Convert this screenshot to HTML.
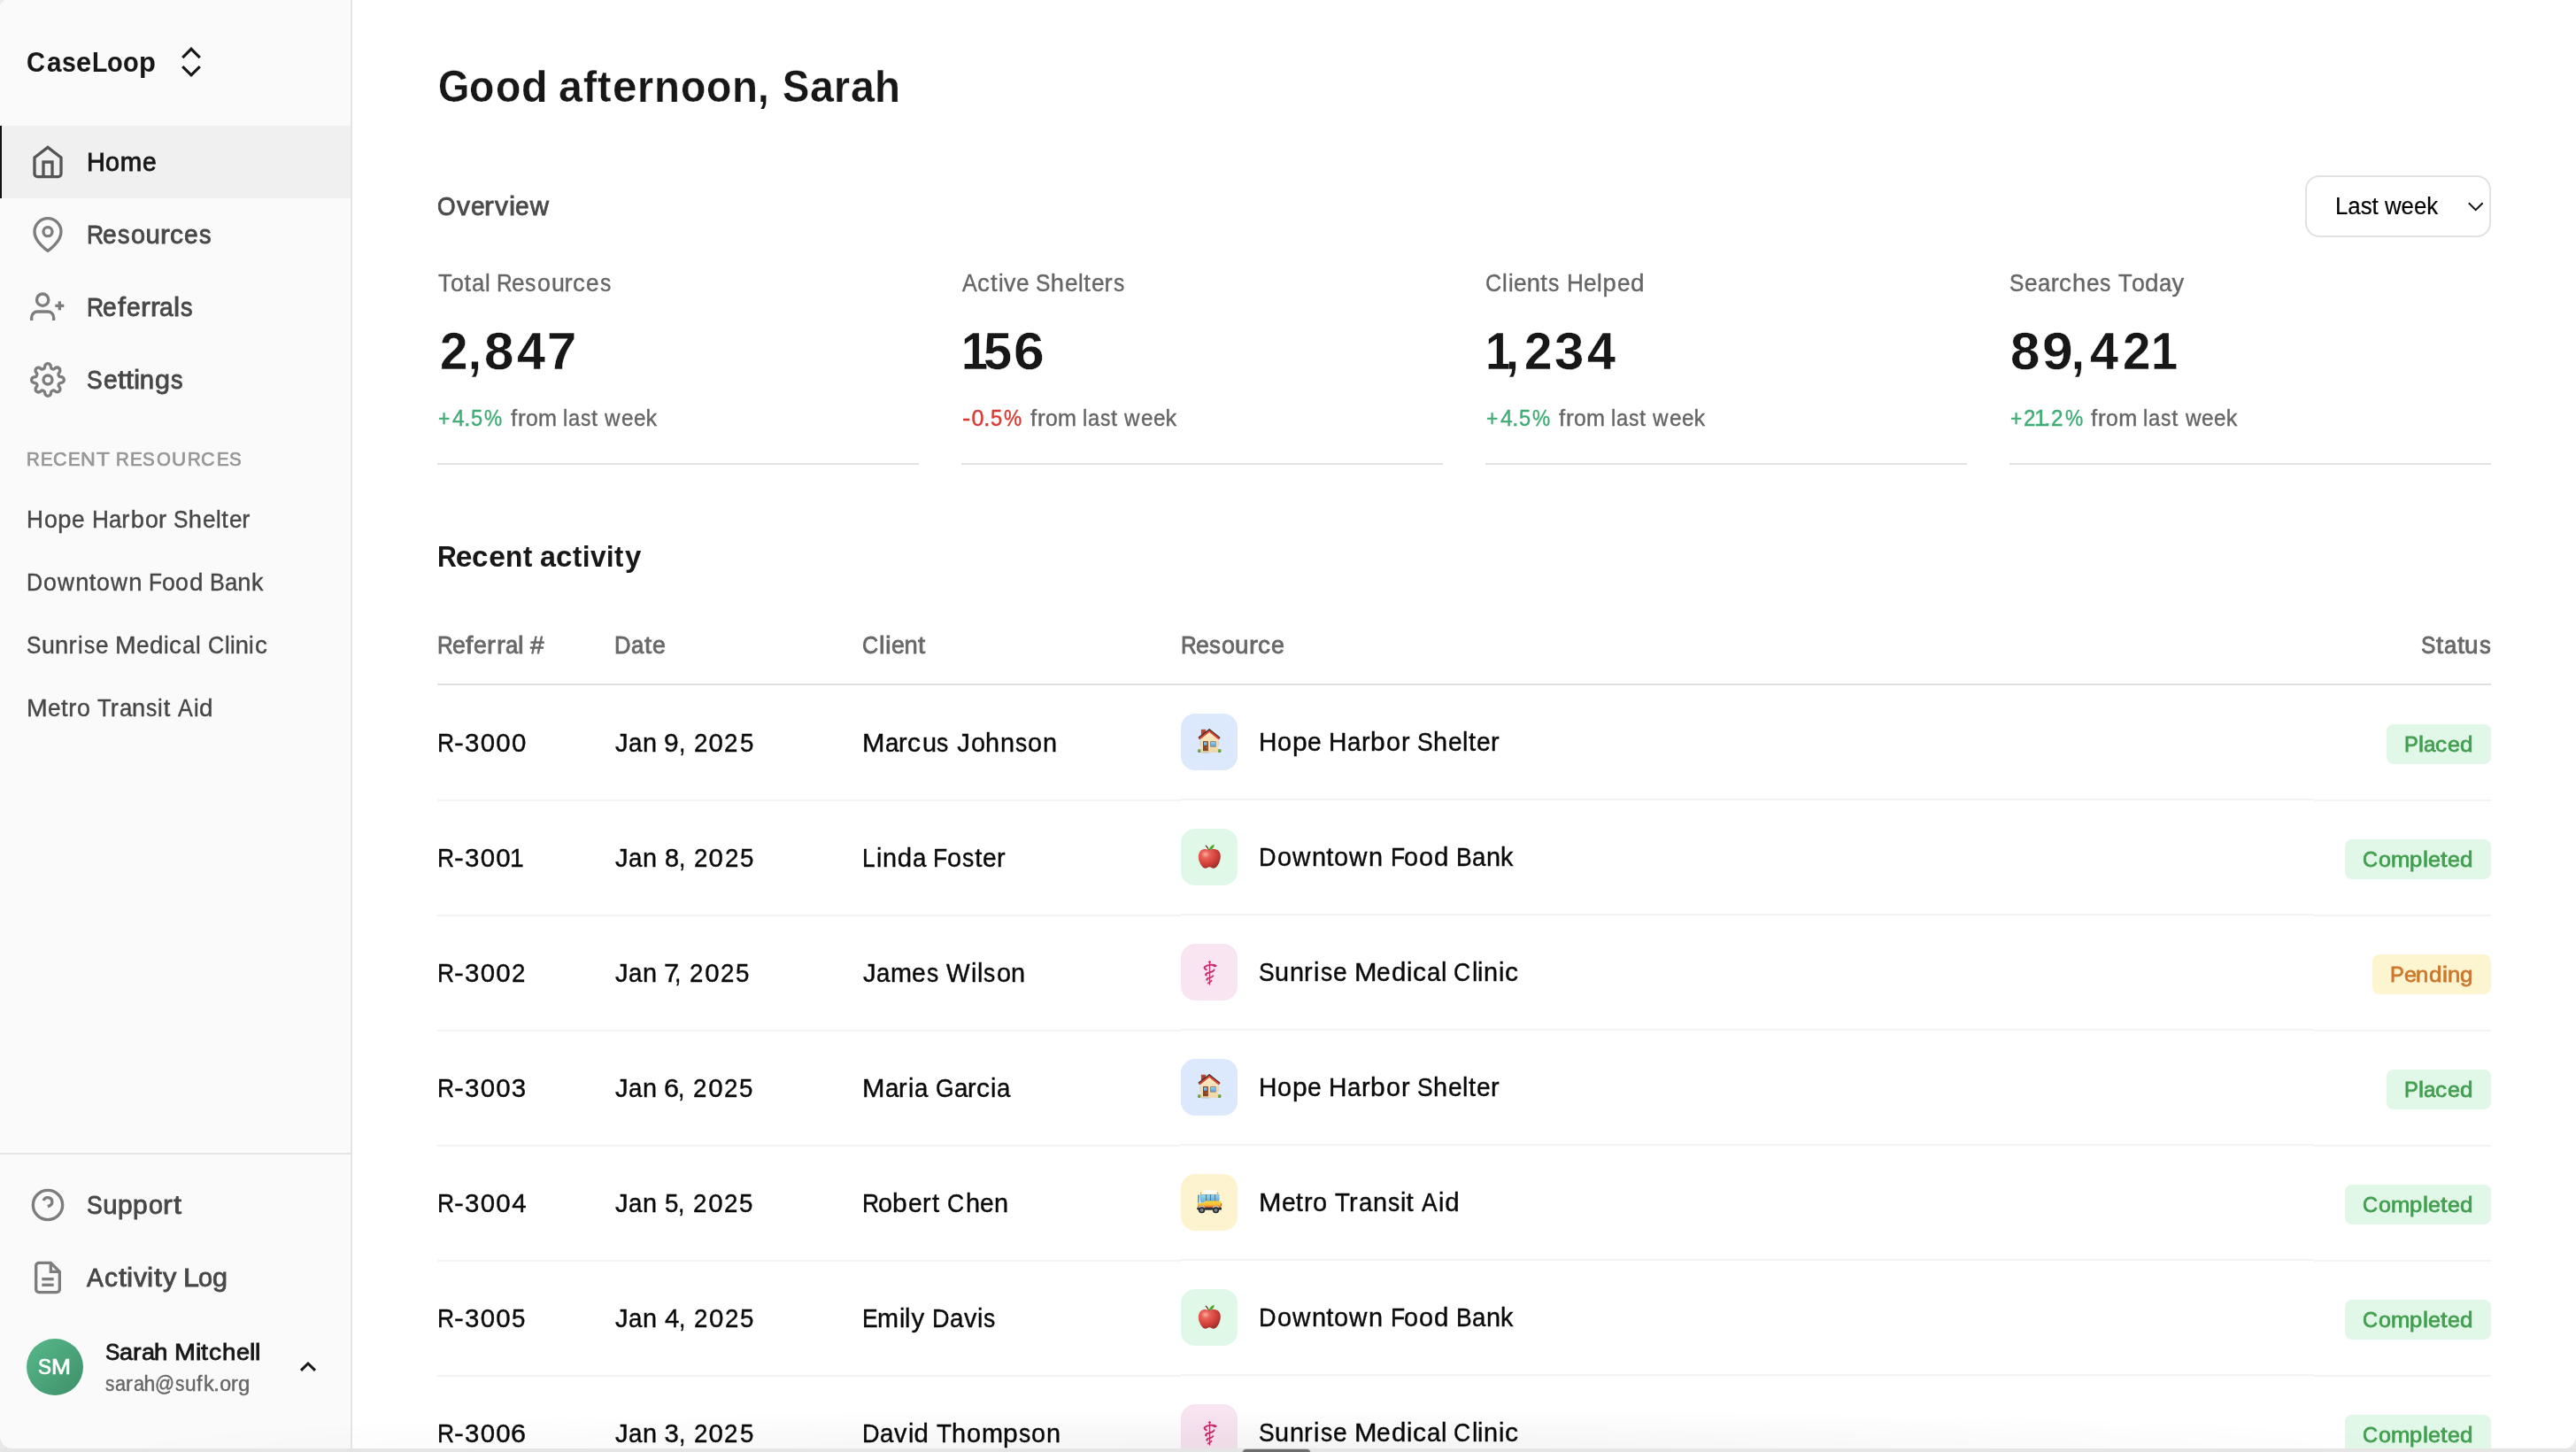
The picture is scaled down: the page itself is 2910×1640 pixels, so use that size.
<!DOCTYPE html>
<html lang="en">
<head>
<meta charset="utf-8">
<title>CaseLoop</title>
<style>
html,body{margin:0;padding:0;background:#fff;}
body{width:2910px;height:1640px;position:relative;overflow:hidden;font-family:"Liberation Sans",sans-serif;}
.t{position:absolute;white-space:nowrap;line-height:1;transform-origin:0 0;font-kerning:normal;}
.b{position:absolute;display:block;}
.g i{position:absolute;top:0;font-style:normal;transform-origin:0 0;white-space:pre;}
#root{position:absolute;left:0;top:0;width:2910px;height:1640px;overflow:hidden;will-change:transform;}
</style>
</head>
<body>
<div id="root">
<div class="b" style="left:0px;top:0px;width:396px;height:1640px;background:#fafafa;"></div>
<div class="b" style="left:396px;top:0px;width:2px;height:1640px;background:#e4e4e4;"></div>
<div class="b" style="left:0px;top:142px;width:396px;height:82px;background:#f0f0f0;"></div>
<div class="b" style="left:0px;top:142px;width:2px;height:82px;background:#111111;"></div>
<div class="b" style="left:0px;top:1302px;width:396px;height:2px;background:#e4e4e4;"></div>
<div class="t g" style="left:0;top:55.00px;font-size:31.5px;color:#171717;font-weight:700;-webkit-text-stroke:0.08px #171717;"><i style="left:30.25px;transform:scaleX(0.9200)">C</i><i style="left:52.60px;transform:scaleX(0.9400)">a</i><i style="left:69.58px;transform:scaleX(0.9000)">s</i><i style="left:86.06px;transform:scaleX(0.9800)">e</i><i style="left:103.55px;transform:scaleX(0.9000)">L</i><i style="left:120.76px;transform:scaleX(0.9200)">o</i><i style="left:139.03px;transform:scaleX(0.9200)">o</i><i style="left:156.80px;transform:scaleX(0.9800)">p</i></div>
<svg class="b" style="left:196px;top:40px" width="40" height="60" viewBox="196 40 40 60" fill="none" stroke="#171717" stroke-width="3.1"><path d="M206.2 65.1 L216 55.3 L225.8 65.1"/><path d="M206.2 75.1 L216 84.9 L225.8 75.1"/></svg>
<svg class="b" style="left:34px;top:163px" width="40" height="40" viewBox="0 0 24 24" fill="none" stroke="#555555" stroke-width="2"><path d="M3 9l9-7 9 7v11a2 2 0 0 1-2 2H5a2 2 0 0 1-2-2z"/><polyline points="9 22 9 12 15 12 15 22"/></svg>
<div class="t g" style="left:0;top:168.00px;font-size:29.4px;color:#171717;-webkit-text-stroke:0.84px #171717;"><i style="left:98.00px;transform:scaleX(0.9800)">H</i><i style="left:119.35px;transform:scaleX(0.9800)">o</i><i style="left:135.76px;transform:scaleX(1.0000)">m</i><i style="left:161.13px;transform:scaleX(0.9600)">e</i></div>
<svg class="b" style="left:34px;top:245px" width="40" height="40" viewBox="0 0 24 24" fill="none" stroke="#7d7d7d" stroke-width="2"><path d="M21 10c0 7-9 13-9 13s-9-6-9-13a9 9 0 0 1 18 0z"/><circle cx="12" cy="10" r="3"/></svg>
<div class="t g" style="left:0;top:250.00px;font-size:29.4px;color:#474747;-webkit-text-stroke:0.84px #474747;"><i style="left:97.75px;transform:scaleX(0.9000)">R</i><i style="left:116.26px;transform:scaleX(0.9600)">e</i><i style="left:132.96px;transform:scaleX(0.9200)">s</i><i style="left:147.79px;transform:scaleX(0.9800)">o</i><i style="left:164.45px;transform:scaleX(1.0000)">u</i><i style="left:181.04px;transform:scaleX(1.1000)">r</i><i style="left:191.59px;transform:scaleX(1.0200)">c</i><i style="left:208.00px;transform:scaleX(0.9600)">e</i><i style="left:224.70px;transform:scaleX(0.9200)">s</i></div>
<svg class="b" style="left:34px;top:327px" width="40" height="40" viewBox="0 0 24 24" fill="none" stroke="#7d7d7d" stroke-width="2"><path d="M16 21v-2a4 4 0 0 0-4-4H5a4 4 0 0 0-4 4v2"/><circle cx="8.5" cy="7" r="4"/><line x1="20" y1="8" x2="20" y2="14"/><line x1="23" y1="11" x2="17" y2="11"/></svg>
<div class="t g" style="left:0;top:332.00px;font-size:29.4px;color:#474747;-webkit-text-stroke:0.84px #474747;"><i style="left:97.75px;transform:scaleX(0.9000)">R</i><i style="left:116.26px;transform:scaleX(0.9600)">e</i><i style="left:132.71px;transform:scaleX(1.1000)">f</i><i style="left:142.58px;transform:scaleX(0.9600)">e</i><i style="left:158.53px;transform:scaleX(1.1000)">r</i><i style="left:169.71px;transform:scaleX(1.1000)">r</i><i style="left:180.41px;transform:scaleX(0.9600)">a</i><i style="left:196.31px;transform:scaleX(1.1000)">l</i><i style="left:204.12px;transform:scaleX(0.9200)">s</i></div>
<svg class="b" style="left:34px;top:409px" width="40" height="40" viewBox="0 0 24 24" fill="none" stroke="#7d7d7d" stroke-width="2"><circle cx="12" cy="12" r="3"/><path d="M19.4 15a1.65 1.65 0 0 0 .33 1.82l.06.06a2 2 0 0 1 0 2.83 2 2 0 0 1-2.83 0l-.06-.06a1.65 1.65 0 0 0-1.82-.33 1.65 1.65 0 0 0-1 1.51V21a2 2 0 0 1-2 2 2 2 0 0 1-2-2v-.09A1.65 1.65 0 0 0 9 19.4a1.65 1.65 0 0 0-1.82.33l-.06.06a2 2 0 0 1-2.83 0 2 2 0 0 1 0-2.83l.06-.06a1.65 1.65 0 0 0 .33-1.82 1.65 1.65 0 0 0-1.51-1H3a2 2 0 0 1-2-2 2 2 0 0 1 2-2h.09A1.65 1.65 0 0 0 4.6 9a1.65 1.65 0 0 0-.33-1.82l-.06-.06a2 2 0 0 1 0-2.83 2 2 0 0 1 2.83 0l.06.06a1.65 1.65 0 0 0 1.82.33H9a1.65 1.65 0 0 0 1-1.51V3a2 2 0 0 1 2-2 2 2 0 0 1 2 2v.09a1.65 1.65 0 0 0 1 1.51 1.65 1.65 0 0 0 1.82-.33l.06-.06a2 2 0 0 1 2.83 0 2 2 0 0 1 0 2.83l-.06.06a1.65 1.65 0 0 0-.33 1.82V9a1.65 1.65 0 0 0 1.51 1H21a2 2 0 0 1 2 2 2 2 0 0 1-2 2h-.09a1.65 1.65 0 0 0-1.51 1z"/></svg>
<div class="t g" style="left:0;top:414.00px;font-size:29.4px;color:#474747;-webkit-text-stroke:0.84px #474747;"><i style="left:98.00px;transform:scaleX(0.9000)">S</i><i style="left:116.59px;transform:scaleX(0.9600)">e</i><i style="left:132.79px;transform:scaleX(1.1000)">t</i><i style="left:141.54px;transform:scaleX(1.1000)">t</i><i style="left:150.81px;transform:scaleX(1.1000)">i</i><i style="left:157.87px;transform:scaleX(1.0000)">n</i><i style="left:174.96px;transform:scaleX(1.0400)">g</i><i style="left:192.81px;transform:scaleX(0.9200)">s</i></div>
<div class="t g" style="left:0;top:507.00px;font-size:22.8px;color:#979797;-webkit-text-stroke:0.74px #979797;"><i style="left:30.00px;transform:scaleX(0.9000)">R</i><i style="left:45.60px;transform:scaleX(0.9000)">E</i><i style="left:59.97px;transform:scaleX(0.9400)">C</i><i style="left:77.21px;transform:scaleX(0.9000)">E</i><i style="left:91.32px;transform:scaleX(1.0200)">N</i><i style="left:108.81px;transform:scaleX(1.0600)">T</i><i style="left:131.49px;transform:scaleX(0.9000)">R</i><i style="left:147.10px;transform:scaleX(0.9000)">E</i><i style="left:161.46px;transform:scaleX(0.9000)">S</i><i style="left:177.02px;transform:scaleX(0.9000)">O</i><i style="left:194.49px;transform:scaleX(0.9800)">U</i><i style="left:211.87px;transform:scaleX(0.9000)">R</i><i style="left:227.48px;transform:scaleX(0.9400)">C</i><i style="left:244.71px;transform:scaleX(0.9000)">E</i><i style="left:259.08px;transform:scaleX(0.9000)">S</i></div>
<div class="t g" style="left:0;top:573.00px;font-size:27.3px;color:#474747;-webkit-text-stroke:0.4px #474747;"><i style="left:30.25px;transform:scaleX(0.9600)">H</i><i style="left:49.82px;transform:scaleX(0.9800)">o</i><i style="left:65.16px;transform:scaleX(1.0000)">p</i><i style="left:81.33px;transform:scaleX(0.9600)">e</i><i style="left:103.55px;transform:scaleX(0.9600)">H</i><i style="left:122.88px;transform:scaleX(0.9400)">a</i><i style="left:137.23px;transform:scaleX(1.0000)">r</i><i style="left:147.67px;transform:scaleX(1.0000)">b</i><i style="left:163.84px;transform:scaleX(0.9800)">o</i><i style="left:178.93px;transform:scaleX(1.0000)">r</i><i style="left:196.03px;transform:scaleX(0.9000)">S</i><i style="left:212.71px;transform:scaleX(1.0000)">h</i><i style="left:228.59px;transform:scaleX(0.9600)">e</i><i style="left:243.50px;transform:scaleX(0.9400)">l</i><i style="left:250.17px;transform:scaleX(1.0000)">t</i><i style="left:258.68px;transform:scaleX(0.9600)">e</i><i style="left:273.33px;transform:scaleX(1.0000)">r</i></div>
<div class="t g" style="left:0;top:644.00px;font-size:27.3px;color:#474747;-webkit-text-stroke:0.4px #474747;"><i style="left:30.25px;transform:scaleX(0.9200)">D</i><i style="left:49.26px;transform:scaleX(0.9800)">o</i><i style="left:65.13px;transform:scaleX(0.9600)">w</i><i style="left:85.16px;transform:scaleX(1.0000)">n</i><i style="left:100.77px;transform:scaleX(1.0000)">t</i><i style="left:109.28px;transform:scaleX(0.9800)">o</i><i style="left:125.15px;transform:scaleX(0.9600)">w</i><i style="left:145.17px;transform:scaleX(1.0000)">n</i><i style="left:168.10px;transform:scaleX(0.9000)">F</i><i style="left:182.67px;transform:scaleX(0.9800)">o</i><i style="left:198.26px;transform:scaleX(0.9800)">o</i><i style="left:213.60px;transform:scaleX(1.0200)">d</i><i style="left:236.83px;transform:scaleX(0.9200)">B</i><i style="left:253.84px;transform:scaleX(0.9400)">a</i><i style="left:268.19px;transform:scaleX(1.0000)">n</i><i style="left:283.80px;transform:scaleX(0.9800)">k</i></div>
<div class="t g" style="left:0;top:715.00px;font-size:27.3px;color:#474747;-webkit-text-stroke:0.4px #474747;"><i style="left:30.00px;transform:scaleX(0.9000)">S</i><i style="left:47.18px;transform:scaleX(0.9800)">u</i><i style="left:62.06px;transform:scaleX(1.0000)">n</i><i style="left:77.42px;transform:scaleX(1.0000)">r</i><i style="left:87.86px;transform:scaleX(0.9400)">i</i><i style="left:94.66px;transform:scaleX(0.9000)">s</i><i style="left:108.13px;transform:scaleX(0.9600)">e</i><i style="left:129.85px;transform:scaleX(1.0400)">M</i><i style="left:154.09px;transform:scaleX(0.9600)">e</i><i style="left:169.00px;transform:scaleX(1.0200)">d</i><i style="left:184.92px;transform:scaleX(0.9400)">i</i><i style="left:191.22px;transform:scaleX(1.0200)">c</i><i style="left:206.32px;transform:scaleX(0.9400)">a</i><i style="left:220.92px;transform:scaleX(0.9400)">l</i><i style="left:234.53px;transform:scaleX(0.9200)">C</i><i style="left:253.52px;transform:scaleX(0.9400)">l</i><i style="left:259.82px;transform:scaleX(0.9400)">i</i><i style="left:265.87px;transform:scaleX(1.0000)">n</i><i style="left:281.48px;transform:scaleX(0.9400)">i</i><i style="left:287.78px;transform:scaleX(1.0200)">c</i></div>
<div class="t g" style="left:0;top:786.00px;font-size:27.3px;color:#474747;-webkit-text-stroke:0.4px #474747;"><i style="left:29.75px;transform:scaleX(1.0400)">M</i><i style="left:53.99px;transform:scaleX(0.9600)">e</i><i style="left:68.89px;transform:scaleX(1.0000)">t</i><i style="left:77.15px;transform:scaleX(1.0000)">r</i><i style="left:87.01px;transform:scaleX(0.9800)">o</i><i style="left:109.91px;transform:scaleX(0.9400)">T</i><i style="left:124.72px;transform:scaleX(1.0000)">r</i><i style="left:134.76px;transform:scaleX(0.9400)">a</i><i style="left:149.11px;transform:scaleX(1.0000)">n</i><i style="left:165.22px;transform:scaleX(0.9000)">s</i><i style="left:178.44px;transform:scaleX(0.9400)">i</i><i style="left:184.74px;transform:scaleX(1.0000)">t</i><i style="left:200.81px;transform:scaleX(0.9200)">A</i><i style="left:218.64px;transform:scaleX(0.9400)">i</i><i style="left:224.93px;transform:scaleX(1.0200)">d</i></div>
<svg class="b" style="left:34px;top:1341px" width="40" height="40" viewBox="0 0 24 24" fill="none" stroke="#7d7d7d" stroke-width="2"><circle cx="12" cy="12" r="10"/><path d="M9.09 9a3 3 0 0 1 5.83 1c0 2-3 3-3 3"/></svg>
<div class="t g" style="left:0;top:1346.00px;font-size:29.4px;color:#474747;-webkit-text-stroke:0.84px #474747;"><i style="left:98.00px;transform:scaleX(0.9000)">S</i><i style="left:116.34px;transform:scaleX(1.0000)">u</i><i style="left:132.93px;transform:scaleX(1.0200)">p</i><i style="left:150.24px;transform:scaleX(1.0200)">p</i><i style="left:168.05px;transform:scaleX(0.9800)">o</i><i style="left:184.46px;transform:scaleX(1.1000)">r</i><i style="left:196.02px;transform:scaleX(1.1000)">t</i></div>
<svg class="b" style="left:34px;top:1423px" width="40" height="40" viewBox="0 0 24 24" fill="none" stroke="#7d7d7d" stroke-width="2"><path d="M14 2H6a2 2 0 0 0-2 2v16a2 2 0 0 0 2 2h12a2 2 0 0 0 2-2V8z"/><polyline points="14 2 14 8 20 8"/><line x1="16" y1="13" x2="8" y2="13"/><line x1="16" y1="17" x2="8" y2="17"/></svg>
<div class="t g" style="left:0;top:1428.00px;font-size:29.4px;color:#474747;-webkit-text-stroke:0.84px #474747;"><i style="left:98.25px;transform:scaleX(0.9600)">A</i><i style="left:117.88px;transform:scaleX(1.0200)">c</i><i style="left:134.04px;transform:scaleX(1.1000)">t</i><i style="left:143.32px;transform:scaleX(1.1000)">i</i><i style="left:150.88px;transform:scaleX(1.0200)">v</i><i style="left:166.47px;transform:scaleX(1.1000)">i</i><i style="left:173.77px;transform:scaleX(1.1000)">t</i><i style="left:184.13px;transform:scaleX(1.0400)">y</i><i style="left:206.95px;transform:scaleX(1.1000)">L</i><i style="left:223.53px;transform:scaleX(0.9800)">o</i><i style="left:240.19px;transform:scaleX(1.0400)">g</i></div>
<div class="b" style="left:30px;top:1512px;width:64px;height:64px;border-radius:50%;background:linear-gradient(135deg,#57b98a 0%,#3f8f6a 100%)"></div>
<div class="t g" style="left:0;top:1532.00px;font-size:24.0px;color:#ffffff;-webkit-text-stroke:0.7px #ffffff;"><i style="left:42.98px;transform:scaleX(0.9400)">S</i><i style="left:58.34px;transform:scaleX(1.1000)">M</i></div>
<div class="t g" style="left:0;top:1514.00px;font-size:26.0px;color:#171717;-webkit-text-stroke:0.81px #171717;"><i style="left:118.50px;transform:scaleX(0.9400)">S</i><i style="left:134.80px;transform:scaleX(1.0400)">a</i><i style="left:149.56px;transform:scaleX(1.1000)">r</i><i style="left:159.50px;transform:scaleX(1.0400)">a</i><i style="left:174.27px;transform:scaleX(1.0600)">h</i><i style="left:196.59px;transform:scaleX(1.1000)">M</i><i style="left:220.57px;transform:scaleX(1.1000)">i</i><i style="left:227.37px;transform:scaleX(1.1000)">t</i><i style="left:235.96px;transform:scaleX(1.0800)">c</i><i style="left:250.72px;transform:scaleX(1.0600)">h</i><i style="left:266.61px;transform:scaleX(1.0400)">e</i><i style="left:281.63px;transform:scaleX(1.1000)">l</i><i style="left:288.18px;transform:scaleX(1.1000)">l</i></div>
<div class="t g" style="left:0;top:1552.00px;font-size:23.1px;color:#666666;-webkit-text-stroke:0.4px #666666;"><i style="left:118.75px;transform:scaleX(0.9000)">s</i><i style="left:129.86px;transform:scaleX(0.9400)">a</i><i style="left:141.97px;transform:scaleX(1.0200)">r</i><i style="left:150.50px;transform:scaleX(0.9400)">a</i><i style="left:162.60px;transform:scaleX(1.0000)">h</i><i style="left:175.36px;transform:scaleX(0.9400)">@</i><i style="left:197.61px;transform:scaleX(0.9000)">s</i><i style="left:208.72px;transform:scaleX(0.9800)">u</i><i style="left:221.98px;transform:scaleX(1.0000)">f</i><i style="left:229.62px;transform:scaleX(1.0200)">k</i><i style="left:241.20px;transform:scaleX(1.1000)">.</i><i style="left:248.29px;transform:scaleX(1.0000)">o</i><i style="left:261.23px;transform:scaleX(1.0200)">r</i><i style="left:269.39px;transform:scaleX(1.0400)">g</i></div>
<svg class="b" style="left:330px;top:1526px" width="36" height="36" viewBox="330 1526 36 36" fill="none" stroke="#171717" stroke-width="3"><path d="M340 1547.9 L348 1540 L356 1547.9"/></svg>
<div class="t g" style="left:0;top:73.00px;font-size:50.4px;color:#171717;font-weight:700;-webkit-text-stroke:0.25px #ffffff;"><i style="left:494.50px;transform:scaleX(0.9000)">G</i><i style="left:530.45px;transform:scaleX(0.9200)">o</i><i style="left:559.68px;transform:scaleX(0.9200)">o</i><i style="left:588.91px;transform:scaleX(0.9600)">d</i><i style="left:630.95px;transform:scaleX(0.9600)">a</i><i style="left:659.02px;transform:scaleX(0.9000)">f</i><i style="left:675.37px;transform:scaleX(0.9200)">t</i><i style="left:691.85px;transform:scaleX(0.9800)">e</i><i style="left:719.73px;transform:scaleX(0.9200)">r</i><i style="left:739.25px;transform:scaleX(0.9400)">n</i><i style="left:769.12px;transform:scaleX(0.9200)">o</i><i style="left:798.35px;transform:scaleX(0.9200)">o</i><i style="left:827.07px;transform:scaleX(0.9400)">n</i><i style="left:856.44px;transform:scaleX(0.9000)">,</i><i style="left:883.60px;transform:scaleX(0.9000)">S</i><i style="left:914.57px;transform:scaleX(0.9600)">a</i><i style="left:941.63px;transform:scaleX(0.9200)">r</i><i style="left:960.74px;transform:scaleX(0.9600)">a</i><i style="left:987.81px;transform:scaleX(0.9400)">h</i></div>
<div class="t g" style="left:0;top:218.00px;font-size:29.4px;color:#4a4a4a;-webkit-text-stroke:0.84px #4a4a4a;"><i style="left:494.25px;transform:scaleX(0.9000)">O</i><i style="left:515.97px;transform:scaleX(1.0200)">v</i><i style="left:531.52px;transform:scaleX(0.9600)">e</i><i style="left:547.47px;transform:scaleX(1.1000)">r</i><i style="left:559.24px;transform:scaleX(1.0200)">v</i><i style="left:574.83px;transform:scaleX(1.1000)">i</i><i style="left:582.38px;transform:scaleX(0.9600)">e</i><i style="left:598.87px;transform:scaleX(1.0000)">w</i></div>
<div class="b" style="left:2604px;top:198px;width:210px;height:70px;box-sizing:border-box;border:2px solid #e2e2e2;border-radius:16px;background:#fff"></div>
<div class="t" style="left:2637.95px;top:220.00px;font-size:26.78px;color:#000000;-webkit-text-stroke:0.2px #000000;transform:scaleX(0.9637);">Last week</div>
<svg class="b" style="left:2780px;top:220px" width="34" height="28" viewBox="2780 220 34 28" fill="none" stroke="#111" stroke-width="2"><path d="M2788.8 229.3 L2796.7 237.2 L2804.6 229.3"/></svg>
<div class="t g" style="left:0;top:306.00px;font-size:27.3px;color:#666666;-webkit-text-stroke:0.4px #666666;"><i style="left:494.50px;transform:scaleX(0.9400)">T</i><i style="left:509.25px;transform:scaleX(0.9800)">o</i><i style="left:524.59px;transform:scaleX(1.0000)">t</i><i style="left:533.23px;transform:scaleX(0.9400)">a</i><i style="left:547.83px;transform:scaleX(0.9400)">l</i><i style="left:561.43px;transform:scaleX(0.9000)">R</i><i style="left:578.04px;transform:scaleX(0.9600)">e</i><i style="left:593.44px;transform:scaleX(0.9000)">s</i><i style="left:606.92px;transform:scaleX(0.9800)">o</i><i style="left:622.51px;transform:scaleX(0.9800)">u</i><i style="left:637.38px;transform:scaleX(1.0000)">r</i><i style="left:646.99px;transform:scaleX(1.0200)">c</i><i style="left:662.09px;transform:scaleX(0.9600)">e</i><i style="left:677.50px;transform:scaleX(0.9000)">s</i></div>
<div class="t g" style="left:0;top:368.00px;font-size:58.8px;color:#171717;font-weight:700;-webkit-text-stroke:0.34px #ffffff;"><i style="left:496.50px;transform:scaleX(0.9600)">2</i><i style="left:528.64px;transform:scaleX(0.9000)">,</i><i style="left:546.52px;transform:scaleX(1.0200)">8</i><i style="left:583.87px;transform:scaleX(0.9800)">4</i><i style="left:618.16px;transform:scaleX(1.0200)">7</i></div>
<div class="t g" style="left:0;top:460.00px;font-size:25.2px;color:#3fac75;-webkit-text-stroke:0.4px #3fac75;"><i style="left:495.25px;transform:scaleX(0.9000)">+</i><i style="left:510.88px;transform:scaleX(0.9800)">4</i><i style="left:524.32px;transform:scaleX(1.0800)">.</i><i style="left:532.15px;transform:scaleX(0.9400)">5</i><i style="left:547.49px;transform:scaleX(0.9000)">%</i></div>
<div class="t g" style="left:0;top:460.00px;font-size:25.2px;color:#666666;-webkit-text-stroke:0.4px #666666;"><i style="left:576.56px;transform:scaleX(1.0200)">f</i><i style="left:584.94px;transform:scaleX(1.0400)">r</i><i style="left:593.83px;transform:scaleX(0.9800)">o</i><i style="left:607.97px;transform:scaleX(1.0000)">m</i><i style="left:635.99px;transform:scaleX(0.9400)">l</i><i style="left:641.80px;transform:scaleX(0.9400)">a</i><i style="left:655.78px;transform:scaleX(0.9000)">s</i><i style="left:667.95px;transform:scaleX(1.0000)">t</i><i style="left:683.30px;transform:scaleX(0.9600)">w</i><i style="left:701.76px;transform:scaleX(0.9600)">e</i><i style="left:715.75px;transform:scaleX(0.9600)">e</i><i style="left:729.49px;transform:scaleX(1.0000)">k</i></div>
<div class="b" style="left:494px;top:523px;width:544px;height:2px;background:#e1e1e1;"></div>
<div class="t g" style="left:0;top:306.00px;font-size:27.3px;color:#666666;-webkit-text-stroke:0.4px #666666;"><i style="left:1086.50px;transform:scaleX(0.9200)">A</i><i style="left:1104.19px;transform:scaleX(1.0200)">c</i><i style="left:1119.04px;transform:scaleX(1.0000)">t</i><i style="left:1127.55px;transform:scaleX(0.9400)">i</i><i style="left:1134.35px;transform:scaleX(0.9800)">v</i><i style="left:1148.20px;transform:scaleX(0.9600)">e</i><i style="left:1170.17px;transform:scaleX(0.9000)">S</i><i style="left:1186.85px;transform:scaleX(1.0000)">h</i><i style="left:1202.73px;transform:scaleX(0.9600)">e</i><i style="left:1217.63px;transform:scaleX(0.9400)">l</i><i style="left:1224.31px;transform:scaleX(1.0000)">t</i><i style="left:1232.82px;transform:scaleX(0.9600)">e</i><i style="left:1247.47px;transform:scaleX(1.0000)">r</i><i style="left:1258.01px;transform:scaleX(0.9000)">s</i></div>
<div class="t g" style="left:0;top:368.00px;font-size:58.8px;color:#171717;font-weight:700;-webkit-text-stroke:0.34px #ffffff;"><i style="left:1085.50px;transform:scaleX(0.9200)">1</i><i style="left:1111.43px;transform:scaleX(0.9800)">5</i><i style="left:1145.40px;transform:scaleX(1.0600)">6</i></div>
<div class="t g" style="left:0;top:460.00px;font-size:25.2px;color:#da3833;-webkit-text-stroke:0.4px #da3833;"><i style="left:1086.75px;transform:scaleX(1.1000)">-</i><i style="left:1097.54px;transform:scaleX(1.0000)">0</i><i style="left:1111.32px;transform:scaleX(1.0800)">.</i><i style="left:1119.14px;transform:scaleX(0.9400)">5</i><i style="left:1134.48px;transform:scaleX(0.9000)">%</i></div>
<div class="t g" style="left:0;top:460.00px;font-size:25.2px;color:#666666;-webkit-text-stroke:0.4px #666666;"><i style="left:1163.55px;transform:scaleX(1.0200)">f</i><i style="left:1171.93px;transform:scaleX(1.0400)">r</i><i style="left:1180.82px;transform:scaleX(0.9800)">o</i><i style="left:1194.96px;transform:scaleX(1.0000)">m</i><i style="left:1222.99px;transform:scaleX(0.9400)">l</i><i style="left:1228.80px;transform:scaleX(0.9400)">a</i><i style="left:1242.77px;transform:scaleX(0.9000)">s</i><i style="left:1254.94px;transform:scaleX(1.0000)">t</i><i style="left:1270.29px;transform:scaleX(0.9600)">w</i><i style="left:1288.75px;transform:scaleX(0.9600)">e</i><i style="left:1302.74px;transform:scaleX(0.9600)">e</i><i style="left:1316.49px;transform:scaleX(1.0000)">k</i></div>
<div class="b" style="left:1086px;top:523px;width:544px;height:2px;background:#e1e1e1;"></div>
<div class="t g" style="left:0;top:306.00px;font-size:27.3px;color:#666666;-webkit-text-stroke:0.4px #666666;"><i style="left:1678.25px;transform:scaleX(0.9200)">C</i><i style="left:1697.24px;transform:scaleX(0.9400)">l</i><i style="left:1703.54px;transform:scaleX(0.9400)">i</i><i style="left:1710.09px;transform:scaleX(0.9600)">e</i><i style="left:1724.74px;transform:scaleX(1.0000)">n</i><i style="left:1740.36px;transform:scaleX(1.0000)">t</i><i style="left:1749.11px;transform:scaleX(0.9000)">s</i><i style="left:1769.64px;transform:scaleX(0.9600)">H</i><i style="left:1789.22px;transform:scaleX(0.9600)">e</i><i style="left:1804.12px;transform:scaleX(0.9400)">l</i><i style="left:1810.42px;transform:scaleX(1.0000)">p</i><i style="left:1826.59px;transform:scaleX(0.9600)">e</i><i style="left:1841.50px;transform:scaleX(1.0200)">d</i></div>
<div class="t g" style="left:0;top:368.00px;font-size:58.8px;color:#171717;font-weight:700;-webkit-text-stroke:0.34px #ffffff;"><i style="left:1677.50px;transform:scaleX(0.9200)">1</i><i style="left:1701.43px;transform:scaleX(0.9000)">,</i><i style="left:1722.04px;transform:scaleX(0.9600)">2</i><i style="left:1755.93px;transform:scaleX(1.0200)">3</i><i style="left:1792.81px;transform:scaleX(0.9800)">4</i></div>
<div class="t g" style="left:0;top:460.00px;font-size:25.2px;color:#3fac75;-webkit-text-stroke:0.4px #3fac75;"><i style="left:1679.25px;transform:scaleX(0.9000)">+</i><i style="left:1694.88px;transform:scaleX(0.9800)">4</i><i style="left:1708.32px;transform:scaleX(1.0800)">.</i><i style="left:1716.15px;transform:scaleX(0.9400)">5</i><i style="left:1731.49px;transform:scaleX(0.9000)">%</i></div>
<div class="t g" style="left:0;top:460.00px;font-size:25.2px;color:#666666;-webkit-text-stroke:0.4px #666666;"><i style="left:1760.56px;transform:scaleX(1.0200)">f</i><i style="left:1768.94px;transform:scaleX(1.0400)">r</i><i style="left:1777.83px;transform:scaleX(0.9800)">o</i><i style="left:1791.97px;transform:scaleX(1.0000)">m</i><i style="left:1819.99px;transform:scaleX(0.9400)">l</i><i style="left:1825.80px;transform:scaleX(0.9400)">a</i><i style="left:1839.78px;transform:scaleX(0.9000)">s</i><i style="left:1851.95px;transform:scaleX(1.0000)">t</i><i style="left:1867.30px;transform:scaleX(0.9600)">w</i><i style="left:1885.76px;transform:scaleX(0.9600)">e</i><i style="left:1899.75px;transform:scaleX(0.9600)">e</i><i style="left:1913.49px;transform:scaleX(1.0000)">k</i></div>
<div class="b" style="left:1678px;top:523px;width:544px;height:2px;background:#e1e1e1;"></div>
<div class="t g" style="left:0;top:306.00px;font-size:27.3px;color:#666666;-webkit-text-stroke:0.4px #666666;"><i style="left:2270.00px;transform:scaleX(0.9000)">S</i><i style="left:2287.18px;transform:scaleX(0.9600)">e</i><i style="left:2302.34px;transform:scaleX(0.9400)">a</i><i style="left:2316.69px;transform:scaleX(1.0000)">r</i><i style="left:2326.30px;transform:scaleX(1.0200)">c</i><i style="left:2340.90px;transform:scaleX(1.0000)">h</i><i style="left:2356.78px;transform:scaleX(0.9600)">e</i><i style="left:2372.19px;transform:scaleX(0.9000)">s</i><i style="left:2392.97px;transform:scaleX(0.9400)">T</i><i style="left:2407.73px;transform:scaleX(0.9800)">o</i><i style="left:2423.07px;transform:scaleX(1.0200)">d</i><i style="left:2438.99px;transform:scaleX(0.9400)">a</i><i style="left:2453.45px;transform:scaleX(1.0000)">y</i></div>
<div class="t g" style="left:0;top:368.00px;font-size:58.8px;color:#171717;font-weight:700;-webkit-text-stroke:0.34px #ffffff;"><i style="left:2271.25px;transform:scaleX(1.0200)">8</i><i style="left:2306.60px;transform:scaleX(1.0600)">9</i><i style="left:2339.86px;transform:scaleX(0.9000)">,</i><i style="left:2360.72px;transform:scaleX(0.9800)">4</i><i style="left:2397.76px;transform:scaleX(0.9600)">2</i><i style="left:2429.65px;transform:scaleX(0.9200)">1</i></div>
<div class="t g" style="left:0;top:460.00px;font-size:25.2px;color:#3fac75;-webkit-text-stroke:0.4px #3fac75;"><i style="left:2271.25px;transform:scaleX(0.9000)">+</i><i style="left:2285.82px;transform:scaleX(0.9600)">2</i><i style="left:2298.46px;transform:scaleX(1.0400)">1</i><i style="left:2309.22px;transform:scaleX(1.0800)">.</i><i style="left:2317.13px;transform:scaleX(0.9600)">2</i><i style="left:2332.77px;transform:scaleX(0.9000)">%</i></div>
<div class="t g" style="left:0;top:460.00px;font-size:25.2px;color:#666666;-webkit-text-stroke:0.4px #666666;"><i style="left:2361.84px;transform:scaleX(1.0200)">f</i><i style="left:2370.22px;transform:scaleX(1.0400)">r</i><i style="left:2379.11px;transform:scaleX(0.9800)">o</i><i style="left:2393.25px;transform:scaleX(1.0000)">m</i><i style="left:2421.27px;transform:scaleX(0.9400)">l</i><i style="left:2427.08px;transform:scaleX(0.9400)">a</i><i style="left:2441.06px;transform:scaleX(0.9000)">s</i><i style="left:2453.23px;transform:scaleX(1.0000)">t</i><i style="left:2468.58px;transform:scaleX(0.9600)">w</i><i style="left:2487.04px;transform:scaleX(0.9600)">e</i><i style="left:2501.03px;transform:scaleX(0.9600)">e</i><i style="left:2514.77px;transform:scaleX(1.0000)">k</i></div>
<div class="b" style="left:2270px;top:523px;width:544px;height:2px;background:#e1e1e1;"></div>
<div class="t g" style="left:0;top:612.00px;font-size:33.6px;color:#171717;font-weight:700;-webkit-text-stroke:0.06px #171717;"><i style="left:494.00px;transform:scaleX(0.9000)">R</i><i style="left:514.72px;transform:scaleX(1.0000)">e</i><i style="left:533.39px;transform:scaleX(0.9800)">c</i><i style="left:552.28px;transform:scaleX(1.0000)">e</i><i style="left:570.95px;transform:scaleX(0.9400)">n</i><i style="left:590.78px;transform:scaleX(0.9200)">t</i><i style="left:610.39px;transform:scaleX(0.9600)">a</i><i style="left:628.27px;transform:scaleX(0.9800)">c</i><i style="left:647.16px;transform:scaleX(0.9200)">t</i><i style="left:658.20px;transform:scaleX(0.9000)">i</i><i style="left:667.33px;transform:scaleX(0.9400)">v</i><i style="left:685.36px;transform:scaleX(0.9000)">i</i><i style="left:693.99px;transform:scaleX(0.9200)">t</i><i style="left:705.72px;transform:scaleX(0.9800)">y</i></div>
<div class="t g" style="left:0;top:715.00px;font-size:27.3px;color:#686868;-webkit-text-stroke:0.81px #686868;"><i style="left:494.00px;transform:scaleX(0.9000)">R</i><i style="left:510.99px;transform:scaleX(0.9800)">e</i><i style="left:526.26px;transform:scaleX(1.1000)">f</i><i style="left:535.43px;transform:scaleX(0.9800)">e</i><i style="left:550.20px;transform:scaleX(1.1000)">r</i><i style="left:560.59px;transform:scaleX(1.1000)">r</i><i style="left:570.78px;transform:scaleX(0.9400)">a</i><i style="left:585.29px;transform:scaleX(1.1000)">l</i><i style="left:599.28px;transform:scaleX(1.0200)">#</i></div>
<div class="t g" style="left:0;top:715.00px;font-size:27.3px;color:#686868;-webkit-text-stroke:0.81px #686868;"><i style="left:694.00px;transform:scaleX(0.9400)">D</i><i style="left:713.01px;transform:scaleX(0.9400)">a</i><i style="left:727.78px;transform:scaleX(1.0800)">t</i><i style="left:736.62px;transform:scaleX(0.9800)">e</i></div>
<div class="t g" style="left:0;top:715.00px;font-size:27.3px;color:#686868;-webkit-text-stroke:0.81px #686868;"><i style="left:974.25px;transform:scaleX(0.9200)">C</i><i style="left:993.07px;transform:scaleX(1.1000)">l</i><i style="left:999.62px;transform:scaleX(1.1000)">i</i><i style="left:1006.67px;transform:scaleX(0.9800)">e</i><i style="left:1021.44px;transform:scaleX(1.0000)">n</i><i style="left:1037.33px;transform:scaleX(1.0800)">t</i></div>
<div class="t g" style="left:0;top:715.00px;font-size:27.3px;color:#686868;-webkit-text-stroke:0.81px #686868;"><i style="left:1334.00px;transform:scaleX(0.9000)">R</i><i style="left:1350.99px;transform:scaleX(0.9800)">e</i><i style="left:1366.26px;transform:scaleX(0.9400)">s</i><i style="left:1380.27px;transform:scaleX(0.9800)">o</i><i style="left:1395.47px;transform:scaleX(1.0200)">u</i><i style="left:1411.11px;transform:scaleX(1.1000)">r</i><i style="left:1420.92px;transform:scaleX(1.0200)">c</i><i style="left:1436.18px;transform:scaleX(0.9800)">e</i></div>
<div class="t g" style="left:0;top:715.00px;font-size:27.3px;color:#686868;-webkit-text-stroke:0.81px #686868;"><i style="left:2735.22px;transform:scaleX(0.9000)">S</i><i style="left:2752.02px;transform:scaleX(1.0800)">t</i><i style="left:2760.99px;transform:scaleX(0.9400)">a</i><i style="left:2775.76px;transform:scaleX(1.0800)">t</i><i style="left:2784.36px;transform:scaleX(1.0200)">u</i><i style="left:2800.50px;transform:scaleX(0.9400)">s</i></div>
<div class="b" style="left:494px;top:772px;width:2320px;height:2px;background:#e0e0e0;"></div>
<div class="t g" style="left:0;top:824.00px;font-size:29.4px;color:#0a0a0a;-webkit-text-stroke:0.4px #0a0a0a;"><i style="left:494.00px;transform:scaleX(0.9000)">R</i><i style="left:512.77px;transform:scaleX(1.1000)">-</i><i style="left:525.08px;transform:scaleX(1.0000)">3</i><i style="left:542.63px;transform:scaleX(1.0000)">0</i><i style="left:560.29px;transform:scaleX(1.0000)">0</i><i style="left:577.96px;transform:scaleX(1.0000)">0</i></div>
<div class="t g" style="left:0;top:824.00px;font-size:29.4px;color:#0a0a0a;-webkit-text-stroke:0.4px #0a0a0a;"><i style="left:695.00px;transform:scaleX(1.0000)">J</i><i style="left:710.23px;transform:scaleX(0.9400)">a</i><i style="left:725.96px;transform:scaleX(0.9800)">n</i><i style="left:750.37px;transform:scaleX(1.0200)">9</i><i style="left:766.53px;transform:scaleX(0.9000)">,</i><i style="left:783.72px;transform:scaleX(0.9400)">2</i><i style="left:800.54px;transform:scaleX(1.0000)">0</i><i style="left:818.46px;transform:scaleX(0.9400)">2</i><i style="left:835.53px;transform:scaleX(0.9400)">5</i></div>
<div class="t g" style="left:0;top:824.00px;font-size:29.4px;color:#0a0a0a;-webkit-text-stroke:0.4px #0a0a0a;"><i style="left:974.00px;transform:scaleX(1.0400)">M</i><i style="left:999.54px;transform:scaleX(0.9400)">a</i><i style="left:1015.27px;transform:scaleX(0.9800)">r</i><i style="left:1025.34px;transform:scaleX(1.0200)">c</i><i style="left:1041.59px;transform:scaleX(0.9800)">u</i><i style="left:1058.40px;transform:scaleX(0.9000)">s</i><i style="left:1081.30px;transform:scaleX(1.0000)">J</i><i style="left:1096.78px;transform:scaleX(0.9800)">o</i><i style="left:1113.32px;transform:scaleX(0.9800)">h</i><i style="left:1129.88px;transform:scaleX(0.9800)">n</i><i style="left:1146.92px;transform:scaleX(0.9000)">s</i><i style="left:1161.45px;transform:scaleX(0.9800)">o</i><i style="left:1177.99px;transform:scaleX(0.9800)">n</i></div>
<div class="b" style="left:1334px;top:806px;width:64px;height:64px;border-radius:16px;background:#dce8fb"><svg width="64" height="64" viewBox="0 0 64 64" style="display:block">
<defs>
<linearGradient id="hw" x1="0" y1="0" x2="0" y2="1"><stop offset="0" stop-color="#fbe9c3"/><stop offset="1" stop-color="#efd6a6"/></linearGradient>
<linearGradient id="hg" x1="0" y1="0" x2="0" y2="1"><stop offset="0" stop-color="#8fd2f6"/><stop offset="1" stop-color="#5b9fdc"/></linearGradient>
<radialGradient id="hb" cx="0.4" cy="0.35" r="0.7"><stop offset="0" stop-color="#8cc63f"/><stop offset="1" stop-color="#3f7d22"/></radialGradient>
</defs>
<rect x="22.9" y="17.9" width="5.2" height="8" fill="#b4432f"/>
<rect x="22.9" y="17.9" width="5.2" height="1" fill="#c2513a"/>
<circle cx="20.8" cy="41.9" r="2" fill="url(#hb)"/>
<circle cx="43.5" cy="41.9" r="2" fill="url(#hb)"/>
<path d="M22.5 43.7 V27.6 L32.2 20.4 L41.7 27.6 V43.7 Z" fill="url(#hw)"/>
<rect x="21.4" y="31" width="1.3" height="5.8" fill="#e3cfae"/>
<rect x="41.5" y="31" width="1.3" height="5.8" fill="#e3cfae"/>
<path d="M20.2 27.9 L32.2 18.6 L43.8 27.9" fill="none" stroke="#3b2a2a" stroke-width="2.6" stroke-linejoin="miter"/>
<path d="M20.7 28.6 L32.2 19.8 L43.3 28.6" fill="none" stroke="#d8442f" stroke-width="2" stroke-linejoin="miter"/>
<rect x="25" y="31.2" width="5.8" height="11" fill="#7b3a20"/>
<rect x="25.5" y="31.7" width="4.8" height="10.3" fill="#8a4526"/>
<rect x="26" y="32.4" width="3.5" height="3.5" fill="url(#hg)"/>
<circle cx="29.2" cy="38.6" r="0.5" fill="#e5b13a"/>
<rect x="33.2" y="31.2" width="6.4" height="6.4" fill="#8b6a52"/>
<rect x="33.9" y="31.9" width="5" height="5" fill="url(#hg)"/>
<rect x="23" y="43.6" width="9.2" height="0.8" fill="#b9b1a6"/>
</svg></div>
<div class="t g" style="left:0;top:823.00px;font-size:29.4px;color:#0a0a0a;-webkit-text-stroke:0.4px #0a0a0a;"><i style="left:1422.00px;transform:scaleX(0.9600)">H</i><i style="left:1443.31px;transform:scaleX(0.9800)">o</i><i style="left:1459.60px;transform:scaleX(1.0200)">p</i><i style="left:1476.99px;transform:scaleX(0.9600)">e</i><i style="left:1500.94px;transform:scaleX(0.9600)">H</i><i style="left:1522.00px;transform:scaleX(0.9400)">a</i><i style="left:1537.72px;transform:scaleX(0.9800)">r</i><i style="left:1548.45px;transform:scaleX(1.0200)">b</i><i style="left:1566.10px;transform:scaleX(0.9800)">o</i><i style="left:1582.64px;transform:scaleX(0.9800)">r</i><i style="left:1600.80px;transform:scaleX(0.9000)">S</i><i style="left:1619.02px;transform:scaleX(0.9800)">h</i><i style="left:1635.57px;transform:scaleX(0.9600)">e</i><i style="left:1651.90px;transform:scaleX(0.9800)">l</i><i style="left:1659.09px;transform:scaleX(1.0000)">t</i><i style="left:1667.98px;transform:scaleX(0.9600)">e</i><i style="left:1684.30px;transform:scaleX(0.9800)">r</i></div>
<div class="b" style="left:2696.1px;top:818px;width:117.9px;height:45px;border-radius:8px;background:#e1f8e8"></div>
<div class="t g" style="left:0;top:829.00px;font-size:24.6px;color:#439e50;-webkit-text-stroke:0.77px #439e50;"><i style="left:2716.14px;transform:scaleX(0.9600)">P</i><i style="left:2731.79px;transform:scaleX(1.1000)">l</i><i style="left:2737.84px;transform:scaleX(0.9800)">a</i><i style="left:2751.46px;transform:scaleX(1.0600)">c</i><i style="left:2765.32px;transform:scaleX(1.0200)">e</i><i style="left:2779.41px;transform:scaleX(1.0600)">d</i></div>
<div class="b" style="left:494px;top:903px;width:840px;height:2px;background:#f4f4f4;"></div>
<div class="b" style="left:1334px;top:902px;width:1280px;height:2px;background:#f4f4f4;"></div>
<div class="b" style="left:2614px;top:903px;width:200px;height:2px;background:#f4f4f4;"></div>
<div class="t g" style="left:0;top:954.00px;font-size:29.4px;color:#0a0a0a;-webkit-text-stroke:0.4px #0a0a0a;"><i style="left:494.00px;transform:scaleX(0.9000)">R</i><i style="left:512.77px;transform:scaleX(1.1000)">-</i><i style="left:525.08px;transform:scaleX(1.0000)">3</i><i style="left:542.63px;transform:scaleX(1.0000)">0</i><i style="left:560.29px;transform:scaleX(1.0000)">0</i><i style="left:576.46px;transform:scaleX(0.9600)">1</i></div>
<div class="t g" style="left:0;top:954.00px;font-size:29.4px;color:#0a0a0a;-webkit-text-stroke:0.4px #0a0a0a;"><i style="left:695.00px;transform:scaleX(1.0000)">J</i><i style="left:710.23px;transform:scaleX(0.9400)">a</i><i style="left:725.96px;transform:scaleX(0.9800)">n</i><i style="left:750.87px;transform:scaleX(0.9800)">8</i><i style="left:766.57px;transform:scaleX(0.9000)">,</i><i style="left:783.76px;transform:scaleX(0.9400)">2</i><i style="left:800.58px;transform:scaleX(1.0000)">0</i><i style="left:818.50px;transform:scaleX(0.9400)">2</i><i style="left:835.57px;transform:scaleX(0.9400)">5</i></div>
<div class="t g" style="left:0;top:954.00px;font-size:29.4px;color:#0a0a0a;-webkit-text-stroke:0.4px #0a0a0a;"><i style="left:974.25px;transform:scaleX(0.9000)">L</i><i style="left:990.08px;transform:scaleX(0.9800)">i</i><i style="left:996.86px;transform:scaleX(0.9800)">n</i><i style="left:1013.66px;transform:scaleX(1.0000)">d</i><i style="left:1030.55px;transform:scaleX(0.9400)">a</i><i style="left:1054.15px;transform:scaleX(0.9000)">F</i><i style="left:1069.82px;transform:scaleX(0.9800)">o</i><i style="left:1086.86px;transform:scaleX(0.9000)">s</i><i style="left:1101.14px;transform:scaleX(1.0000)">t</i><i style="left:1110.03px;transform:scaleX(0.9600)">e</i><i style="left:1126.35px;transform:scaleX(0.9800)">r</i></div>
<div class="b" style="left:1334px;top:936px;width:64px;height:64px;border-radius:16px;background:#e0f8e7"><svg width="64" height="64" viewBox="0 0 64 64" style="display:block">
<defs>
<radialGradient id="ab" cx="0.32" cy="0.28" r="0.85"><stop offset="0" stop-color="#f6b3a4"/><stop offset="0.22" stop-color="#ea6259"/><stop offset="0.6" stop-color="#d13f39"/><stop offset="1" stop-color="#8f2a2a"/></radialGradient>
</defs>
<path d="M31.6 24.4 Q30.6 21.4 28.3 19.3" fill="none" stroke="#5b2f24" stroke-width="1.2" stroke-linecap="round"/>
<path d="M31.7 24 Q32.6 19.6 37.6 17.7 Q38 21.6 33.6 23.9 Z" fill="#4aa92d"/>
<path d="M31.6 24.5 C29.6 22.6 25 22.3 22.4 24.8 C19.6 27.6 19.2 32.6 20.8 36.8 C22.4 41 24.8 44.8 27.8 44.7 C29.6 44.7 30.6 43.2 32.3 43.2 C34 43.2 35 44.7 36.8 44.7 C39.8 44.8 42.4 41 43.8 36.8 C45.4 32.4 45.2 27.6 42.4 24.8 C39.6 22.2 34 22.6 31.6 24.5 Z" fill="url(#ab)"/>
</svg></div>
<div class="t g" style="left:0;top:953.00px;font-size:29.4px;color:#0a0a0a;-webkit-text-stroke:0.4px #0a0a0a;"><i style="left:1422.25px;transform:scaleX(0.9200)">D</i><i style="left:1442.71px;transform:scaleX(0.9800)">o</i><i style="left:1459.74px;transform:scaleX(0.9600)">w</i><i style="left:1481.65px;transform:scaleX(0.9800)">n</i><i style="left:1498.20px;transform:scaleX(1.0000)">t</i><i style="left:1507.33px;transform:scaleX(0.9800)">o</i><i style="left:1524.37px;transform:scaleX(0.9600)">w</i><i style="left:1546.28px;transform:scaleX(0.9800)">n</i><i style="left:1570.70px;transform:scaleX(0.9000)">F</i><i style="left:1586.37px;transform:scaleX(0.9800)">o</i><i style="left:1603.16px;transform:scaleX(0.9800)">o</i><i style="left:1619.95px;transform:scaleX(1.0000)">d</i><i style="left:1644.72px;transform:scaleX(0.9000)">B</i><i style="left:1663.04px;transform:scaleX(0.9400)">a</i><i style="left:1678.76px;transform:scaleX(0.9800)">n</i><i style="left:1695.31px;transform:scaleX(0.9800)">k</i></div>
<div class="b" style="left:2648.7px;top:948px;width:165.3px;height:45px;border-radius:8px;background:#e1f8e8"></div>
<div class="t g" style="left:0;top:959.00px;font-size:24.6px;color:#439e50;-webkit-text-stroke:0.77px #439e50;"><i style="left:2668.99px;transform:scaleX(0.9600)">C</i><i style="left:2686.59px;transform:scaleX(1.0200)">o</i><i style="left:2700.84px;transform:scaleX(1.0400)">m</i><i style="left:2722.40px;transform:scaleX(1.0400)">p</i><i style="left:2737.24px;transform:scaleX(1.1000)">l</i><i style="left:2743.28px;transform:scaleX(1.0200)">e</i><i style="left:2757.38px;transform:scaleX(1.1000)">t</i><i style="left:2765.32px;transform:scaleX(1.0200)">e</i><i style="left:2779.41px;transform:scaleX(1.0600)">d</i></div>
<div class="b" style="left:494px;top:1033px;width:840px;height:2px;background:#f4f4f4;"></div>
<div class="b" style="left:1334px;top:1032px;width:1280px;height:2px;background:#f4f4f4;"></div>
<div class="b" style="left:2614px;top:1033px;width:200px;height:2px;background:#f4f4f4;"></div>
<div class="t g" style="left:0;top:1084.00px;font-size:29.4px;color:#0a0a0a;-webkit-text-stroke:0.4px #0a0a0a;"><i style="left:494.00px;transform:scaleX(0.9000)">R</i><i style="left:512.77px;transform:scaleX(1.1000)">-</i><i style="left:525.08px;transform:scaleX(1.0000)">3</i><i style="left:542.63px;transform:scaleX(1.0000)">0</i><i style="left:560.29px;transform:scaleX(1.0000)">0</i><i style="left:578.21px;transform:scaleX(0.9400)">2</i></div>
<div class="t g" style="left:0;top:1084.00px;font-size:29.4px;color:#0a0a0a;-webkit-text-stroke:0.4px #0a0a0a;"><i style="left:695.00px;transform:scaleX(1.0000)">J</i><i style="left:710.23px;transform:scaleX(0.9400)">a</i><i style="left:725.96px;transform:scaleX(0.9800)">n</i><i style="left:749.62px;transform:scaleX(1.0400)">7</i><i style="left:762.22px;transform:scaleX(0.9000)">,</i><i style="left:779.41px;transform:scaleX(0.9400)">2</i><i style="left:796.24px;transform:scaleX(1.0000)">0</i><i style="left:814.15px;transform:scaleX(0.9400)">2</i><i style="left:831.23px;transform:scaleX(0.9400)">5</i></div>
<div class="t g" style="left:0;top:1084.00px;font-size:29.4px;color:#0a0a0a;-webkit-text-stroke:0.4px #0a0a0a;"><i style="left:975.00px;transform:scaleX(1.0000)">J</i><i style="left:990.23px;transform:scaleX(0.9400)">a</i><i style="left:1005.96px;transform:scaleX(0.9800)">m</i><i style="left:1030.48px;transform:scaleX(0.9600)">e</i><i style="left:1047.31px;transform:scaleX(0.9000)">s</i><i style="left:1069.46px;transform:scaleX(0.9600)">W</i><i style="left:1097.05px;transform:scaleX(0.9800)">i</i><i style="left:1103.83px;transform:scaleX(0.9800)">l</i><i style="left:1111.11px;transform:scaleX(0.9000)">s</i><i style="left:1125.64px;transform:scaleX(0.9800)">o</i><i style="left:1142.18px;transform:scaleX(0.9800)">n</i></div>
<div class="b" style="left:1334px;top:1066px;width:64px;height:64px;border-radius:16px;background:#f8e5f1"><svg width="64" height="64" viewBox="0 0 64 64" style="display:block">
<g fill="none" stroke="#c8306f" stroke-linecap="round">
<path d="M32.5 19.6 V46" stroke-width="1.3"/>
<path d="M31.3 20.6 H33.7" stroke-width="1.1"/>
<path d="M39.6 24.9 C37 22.8 29.4 23.6 26.8 26.2 C26 27.2 27.2 28.8 28.8 29.2" stroke-width="2"/>
<path d="M38.8 25.2 L36.6 24.4" stroke-width="2.4"/>
<path d="M37.4 29.6 C37 32.2 30.2 32 28.4 34 C27.6 35 28.2 35.6 28.8 35.6" stroke-width="2"/>
<path d="M36.2 36.2 C35.6 38.4 30.6 38.2 29.4 39.8 C29 40.4 29.4 40.8 29.8 40.8" stroke-width="1.9"/>
<path d="M34.6 41.6 C34 43 31.4 43.2 30.6 44.6" stroke-width="1.6"/>
</g>
</svg></div>
<div class="t g" style="left:0;top:1083.00px;font-size:29.4px;color:#0a0a0a;-webkit-text-stroke:0.4px #0a0a0a;"><i style="left:1422.00px;transform:scaleX(0.9000)">S</i><i style="left:1440.47px;transform:scaleX(0.9800)">u</i><i style="left:1456.77px;transform:scaleX(0.9800)">n</i><i style="left:1473.32px;transform:scaleX(0.9800)">r</i><i style="left:1484.29px;transform:scaleX(0.9800)">i</i><i style="left:1491.57px;transform:scaleX(0.9000)">s</i><i style="left:1505.85px;transform:scaleX(0.9600)">e</i><i style="left:1529.80px;transform:scaleX(1.0400)">M</i><i style="left:1555.35px;transform:scaleX(0.9600)">e</i><i style="left:1571.92px;transform:scaleX(1.0000)">d</i><i style="left:1588.82px;transform:scaleX(0.9800)">i</i><i style="left:1595.60px;transform:scaleX(1.0200)">c</i><i style="left:1611.87px;transform:scaleX(0.9400)">a</i><i style="left:1627.59px;transform:scaleX(0.9800)">l</i><i style="left:1642.25px;transform:scaleX(0.9000)">C</i><i style="left:1662.70px;transform:scaleX(0.9800)">l</i><i style="left:1669.48px;transform:scaleX(0.9800)">i</i><i style="left:1676.26px;transform:scaleX(0.9800)">n</i><i style="left:1692.80px;transform:scaleX(0.9800)">i</i><i style="left:1699.59px;transform:scaleX(1.0200)">c</i></div>
<div class="b" style="left:2680.0px;top:1078px;width:134.0px;height:45px;border-radius:8px;background:#fdf5d0"></div>
<div class="t g" style="left:0;top:1089.00px;font-size:24.6px;color:#cc782c;-webkit-text-stroke:0.77px #cc782c;"><i style="left:2700.03px;transform:scaleX(0.9600)">P</i><i style="left:2715.52px;transform:scaleX(1.0200)">e</i><i style="left:2729.37px;transform:scaleX(1.0400)">n</i><i style="left:2744.06px;transform:scaleX(1.0600)">d</i><i style="left:2758.89px;transform:scaleX(1.1000)">i</i><i style="left:2764.69px;transform:scaleX(1.0400)">n</i><i style="left:2779.38px;transform:scaleX(1.0600)">g</i></div>
<div class="b" style="left:494px;top:1163px;width:840px;height:2px;background:#f4f4f4;"></div>
<div class="b" style="left:1334px;top:1162px;width:1280px;height:2px;background:#f4f4f4;"></div>
<div class="b" style="left:2614px;top:1163px;width:200px;height:2px;background:#f4f4f4;"></div>
<div class="t g" style="left:0;top:1214.00px;font-size:29.4px;color:#0a0a0a;-webkit-text-stroke:0.4px #0a0a0a;"><i style="left:494.00px;transform:scaleX(0.9000)">R</i><i style="left:512.77px;transform:scaleX(1.1000)">-</i><i style="left:525.08px;transform:scaleX(1.0000)">3</i><i style="left:542.63px;transform:scaleX(1.0000)">0</i><i style="left:560.29px;transform:scaleX(1.0000)">0</i><i style="left:577.71px;transform:scaleX(1.0000)">3</i></div>
<div class="t g" style="left:0;top:1214.00px;font-size:29.4px;color:#0a0a0a;-webkit-text-stroke:0.4px #0a0a0a;"><i style="left:695.00px;transform:scaleX(1.0000)">J</i><i style="left:710.23px;transform:scaleX(0.9400)">a</i><i style="left:725.96px;transform:scaleX(0.9800)">n</i><i style="left:750.37px;transform:scaleX(1.0400)">6</i><i style="left:766.29px;transform:scaleX(0.9000)">,</i><i style="left:783.49px;transform:scaleX(0.9400)">2</i><i style="left:800.31px;transform:scaleX(1.0000)">0</i><i style="left:818.23px;transform:scaleX(0.9400)">2</i><i style="left:835.30px;transform:scaleX(0.9400)">5</i></div>
<div class="t g" style="left:0;top:1214.00px;font-size:29.4px;color:#0a0a0a;-webkit-text-stroke:0.4px #0a0a0a;"><i style="left:974.00px;transform:scaleX(1.0400)">M</i><i style="left:999.54px;transform:scaleX(0.9400)">a</i><i style="left:1015.27px;transform:scaleX(0.9800)">r</i><i style="left:1026.24px;transform:scaleX(0.9800)">i</i><i style="left:1033.03px;transform:scaleX(0.9400)">a</i><i style="left:1056.62px;transform:scaleX(0.9000)">G</i><i style="left:1077.51px;transform:scaleX(0.9400)">a</i><i style="left:1093.24px;transform:scaleX(0.9800)">r</i><i style="left:1103.31px;transform:scaleX(1.0200)">c</i><i style="left:1119.31px;transform:scaleX(0.9800)">i</i><i style="left:1126.09px;transform:scaleX(0.9400)">a</i></div>
<div class="b" style="left:1334px;top:1196px;width:64px;height:64px;border-radius:16px;background:#dce8fb"><svg width="64" height="64" viewBox="0 0 64 64" style="display:block">
<defs>
<linearGradient id="hw" x1="0" y1="0" x2="0" y2="1"><stop offset="0" stop-color="#fbe9c3"/><stop offset="1" stop-color="#efd6a6"/></linearGradient>
<linearGradient id="hg" x1="0" y1="0" x2="0" y2="1"><stop offset="0" stop-color="#8fd2f6"/><stop offset="1" stop-color="#5b9fdc"/></linearGradient>
<radialGradient id="hb" cx="0.4" cy="0.35" r="0.7"><stop offset="0" stop-color="#8cc63f"/><stop offset="1" stop-color="#3f7d22"/></radialGradient>
</defs>
<rect x="22.9" y="17.9" width="5.2" height="8" fill="#b4432f"/>
<rect x="22.9" y="17.9" width="5.2" height="1" fill="#c2513a"/>
<circle cx="20.8" cy="41.9" r="2" fill="url(#hb)"/>
<circle cx="43.5" cy="41.9" r="2" fill="url(#hb)"/>
<path d="M22.5 43.7 V27.6 L32.2 20.4 L41.7 27.6 V43.7 Z" fill="url(#hw)"/>
<rect x="21.4" y="31" width="1.3" height="5.8" fill="#e3cfae"/>
<rect x="41.5" y="31" width="1.3" height="5.8" fill="#e3cfae"/>
<path d="M20.2 27.9 L32.2 18.6 L43.8 27.9" fill="none" stroke="#3b2a2a" stroke-width="2.6" stroke-linejoin="miter"/>
<path d="M20.7 28.6 L32.2 19.8 L43.3 28.6" fill="none" stroke="#d8442f" stroke-width="2" stroke-linejoin="miter"/>
<rect x="25" y="31.2" width="5.8" height="11" fill="#7b3a20"/>
<rect x="25.5" y="31.7" width="4.8" height="10.3" fill="#8a4526"/>
<rect x="26" y="32.4" width="3.5" height="3.5" fill="url(#hg)"/>
<circle cx="29.2" cy="38.6" r="0.5" fill="#e5b13a"/>
<rect x="33.2" y="31.2" width="6.4" height="6.4" fill="#8b6a52"/>
<rect x="33.9" y="31.9" width="5" height="5" fill="url(#hg)"/>
<rect x="23" y="43.6" width="9.2" height="0.8" fill="#b9b1a6"/>
</svg></div>
<div class="t g" style="left:0;top:1213.00px;font-size:29.4px;color:#0a0a0a;-webkit-text-stroke:0.4px #0a0a0a;"><i style="left:1422.00px;transform:scaleX(0.9600)">H</i><i style="left:1443.31px;transform:scaleX(0.9800)">o</i><i style="left:1459.60px;transform:scaleX(1.0200)">p</i><i style="left:1476.99px;transform:scaleX(0.9600)">e</i><i style="left:1500.94px;transform:scaleX(0.9600)">H</i><i style="left:1522.00px;transform:scaleX(0.9400)">a</i><i style="left:1537.72px;transform:scaleX(0.9800)">r</i><i style="left:1548.45px;transform:scaleX(1.0200)">b</i><i style="left:1566.10px;transform:scaleX(0.9800)">o</i><i style="left:1582.64px;transform:scaleX(0.9800)">r</i><i style="left:1600.80px;transform:scaleX(0.9000)">S</i><i style="left:1619.02px;transform:scaleX(0.9800)">h</i><i style="left:1635.57px;transform:scaleX(0.9600)">e</i><i style="left:1651.90px;transform:scaleX(0.9800)">l</i><i style="left:1659.09px;transform:scaleX(1.0000)">t</i><i style="left:1667.98px;transform:scaleX(0.9600)">e</i><i style="left:1684.30px;transform:scaleX(0.9800)">r</i></div>
<div class="b" style="left:2696.1px;top:1208px;width:117.9px;height:45px;border-radius:8px;background:#e1f8e8"></div>
<div class="t g" style="left:0;top:1219.00px;font-size:24.6px;color:#439e50;-webkit-text-stroke:0.77px #439e50;"><i style="left:2716.14px;transform:scaleX(0.9600)">P</i><i style="left:2731.79px;transform:scaleX(1.1000)">l</i><i style="left:2737.84px;transform:scaleX(0.9800)">a</i><i style="left:2751.46px;transform:scaleX(1.0600)">c</i><i style="left:2765.32px;transform:scaleX(1.0200)">e</i><i style="left:2779.41px;transform:scaleX(1.0600)">d</i></div>
<div class="b" style="left:494px;top:1293px;width:840px;height:2px;background:#f4f4f4;"></div>
<div class="b" style="left:1334px;top:1292px;width:1280px;height:2px;background:#f4f4f4;"></div>
<div class="b" style="left:2614px;top:1293px;width:200px;height:2px;background:#f4f4f4;"></div>
<div class="t g" style="left:0;top:1344.00px;font-size:29.4px;color:#0a0a0a;-webkit-text-stroke:0.4px #0a0a0a;"><i style="left:494.00px;transform:scaleX(0.9000)">R</i><i style="left:512.77px;transform:scaleX(1.1000)">-</i><i style="left:525.08px;transform:scaleX(1.0000)">3</i><i style="left:542.63px;transform:scaleX(1.0000)">0</i><i style="left:560.29px;transform:scaleX(1.0000)">0</i><i style="left:578.21px;transform:scaleX(1.0000)">4</i></div>
<div class="t g" style="left:0;top:1344.00px;font-size:29.4px;color:#0a0a0a;-webkit-text-stroke:0.4px #0a0a0a;"><i style="left:695.00px;transform:scaleX(1.0000)">J</i><i style="left:710.23px;transform:scaleX(0.9400)">a</i><i style="left:725.96px;transform:scaleX(0.9800)">n</i><i style="left:751.12px;transform:scaleX(0.9400)">5</i><i style="left:766.14px;transform:scaleX(0.9000)">,</i><i style="left:783.33px;transform:scaleX(0.9400)">2</i><i style="left:800.16px;transform:scaleX(1.0000)">0</i><i style="left:818.07px;transform:scaleX(0.9400)">2</i><i style="left:835.15px;transform:scaleX(0.9400)">5</i></div>
<div class="t g" style="left:0;top:1344.00px;font-size:29.4px;color:#0a0a0a;-webkit-text-stroke:0.4px #0a0a0a;"><i style="left:974.00px;transform:scaleX(0.9000)">R</i><i style="left:992.11px;transform:scaleX(0.9800)">o</i><i style="left:1008.40px;transform:scaleX(1.0200)">b</i><i style="left:1025.79px;transform:scaleX(0.9600)">e</i><i style="left:1042.12px;transform:scaleX(0.9800)">r</i><i style="left:1053.10px;transform:scaleX(1.0000)">t</i><i style="left:1070.13px;transform:scaleX(0.9000)">C</i><i style="left:1090.59px;transform:scaleX(0.9800)">h</i><i style="left:1107.14px;transform:scaleX(0.9600)">e</i><i style="left:1123.47px;transform:scaleX(0.9800)">n</i></div>
<div class="b" style="left:1334px;top:1326px;width:64px;height:64px;border-radius:16px;background:#fdf4cf"><svg width="64" height="64" viewBox="0 0 64 64" style="display:block">
<defs>
<linearGradient id="bw" x1="0" y1="0" x2="0" y2="1"><stop offset="0" stop-color="#93d8f0"/><stop offset="1" stop-color="#6aabd6"/></linearGradient>
<linearGradient id="bb" x1="0" y1="0" x2="0" y2="1"><stop offset="0" stop-color="#f8d640"/><stop offset="0.55" stop-color="#f6bf36"/><stop offset="0.8" stop-color="#f08a2c"/><stop offset="1" stop-color="#e9562a"/></linearGradient>
</defs>
<rect x="25.3" y="18" width="14.1" height="3.2" rx="0.6" fill="#fffdf0"/>
<path d="M19.6 23.4 Q19.6 20.9 22 20.9 H42 Q44.2 20.9 44.2 23.4 V31 H19 Z" fill="#fdf9e6"/>
<circle cx="22.5" cy="21.6" r="0.9" fill="#e78f1c"/>
<circle cx="41.6" cy="21.6" r="0.9" fill="#e78f1c"/>
<rect x="22" y="23.1" width="21.3" height="7.5" fill="#4d6b7c"/>
<path d="M19.1 23.6 H21.2 L20.6 32.8 H18.9 Z" fill="#5a9fd2"/>
<path d="M22.4 23.3 H28 V30.4 L25.6 32.6 H22.2 Z" fill="url(#bw)"/>
<rect x="28.9" y="23.3" width="4.2" height="7.1" fill="url(#bw)"/>
<rect x="34" y="23.3" width="4.2" height="7.1" fill="url(#bw)"/>
<rect x="39" y="23.3" width="4" height="7.1" fill="url(#bw)"/>
<path d="M18.9 33 H25.8 L27.6 30.4 H44.6 Q45.4 30.4 45.4 31.4 V38 H18.9 Z" fill="url(#bb)"/>
<rect x="45.1" y="33" width="1" height="3.2" rx="0.4" fill="#d93a2a"/>
<rect x="18.4" y="37.7" width="27.6" height="2.7" rx="0.8" fill="#2a3238"/>
<circle cx="23.6" cy="40" r="4.3" fill="#c9c9c4"/>
<circle cx="39.5" cy="40" r="4.3" fill="#c9c9c4"/>
<rect x="18.4" y="38.2" width="27.6" height="2.2" rx="0.8" fill="#2a3238"/>
<circle cx="23.6" cy="40.8" r="3.5" fill="#22272b"/>
<circle cx="39.5" cy="40.8" r="3.5" fill="#22272b"/>
<circle cx="23.6" cy="40.8" r="1.9" fill="#8b9097"/>
<circle cx="39.5" cy="40.8" r="1.9" fill="#8b9097"/>
<circle cx="23.6" cy="40.8" r="0.7" fill="#5a5f66"/>
<circle cx="39.5" cy="40.8" r="0.7" fill="#5a5f66"/>
</svg></div>
<div class="t g" style="left:0;top:1343.00px;font-size:29.4px;color:#0a0a0a;-webkit-text-stroke:0.4px #0a0a0a;"><i style="left:1422.00px;transform:scaleX(1.0400)">M</i><i style="left:1447.54px;transform:scaleX(0.9600)">e</i><i style="left:1463.87px;transform:scaleX(1.0000)">t</i><i style="left:1473.03px;transform:scaleX(0.9800)">r</i><i style="left:1483.35px;transform:scaleX(0.9800)">o</i><i style="left:1508.02px;transform:scaleX(0.9400)">T</i><i style="left:1524.26px;transform:scaleX(0.9800)">r</i><i style="left:1534.80px;transform:scaleX(0.9400)">a</i><i style="left:1550.52px;transform:scaleX(0.9800)">n</i><i style="left:1567.56px;transform:scaleX(0.9000)">s</i><i style="left:1581.84px;transform:scaleX(0.9800)">i</i><i style="left:1588.62px;transform:scaleX(1.0000)">t</i><i style="left:1606.16px;transform:scaleX(0.9000)">A</i><i style="left:1625.13px;transform:scaleX(0.9800)">i</i><i style="left:1632.16px;transform:scaleX(1.0000)">d</i></div>
<div class="b" style="left:2648.7px;top:1338px;width:165.3px;height:45px;border-radius:8px;background:#e1f8e8"></div>
<div class="t g" style="left:0;top:1349.00px;font-size:24.6px;color:#439e50;-webkit-text-stroke:0.77px #439e50;"><i style="left:2668.99px;transform:scaleX(0.9600)">C</i><i style="left:2686.59px;transform:scaleX(1.0200)">o</i><i style="left:2700.84px;transform:scaleX(1.0400)">m</i><i style="left:2722.40px;transform:scaleX(1.0400)">p</i><i style="left:2737.24px;transform:scaleX(1.1000)">l</i><i style="left:2743.28px;transform:scaleX(1.0200)">e</i><i style="left:2757.38px;transform:scaleX(1.1000)">t</i><i style="left:2765.32px;transform:scaleX(1.0200)">e</i><i style="left:2779.41px;transform:scaleX(1.0600)">d</i></div>
<div class="b" style="left:494px;top:1423px;width:840px;height:2px;background:#f4f4f4;"></div>
<div class="b" style="left:1334px;top:1422px;width:1280px;height:2px;background:#f4f4f4;"></div>
<div class="b" style="left:2614px;top:1423px;width:200px;height:2px;background:#f4f4f4;"></div>
<div class="t g" style="left:0;top:1474.00px;font-size:29.4px;color:#0a0a0a;-webkit-text-stroke:0.4px #0a0a0a;"><i style="left:494.00px;transform:scaleX(0.9000)">R</i><i style="left:512.77px;transform:scaleX(1.1000)">-</i><i style="left:525.08px;transform:scaleX(1.0000)">3</i><i style="left:542.63px;transform:scaleX(1.0000)">0</i><i style="left:560.29px;transform:scaleX(1.0000)">0</i><i style="left:578.21px;transform:scaleX(0.9400)">5</i></div>
<div class="t g" style="left:0;top:1474.00px;font-size:29.4px;color:#0a0a0a;-webkit-text-stroke:0.4px #0a0a0a;"><i style="left:695.00px;transform:scaleX(1.0000)">J</i><i style="left:710.23px;transform:scaleX(0.9400)">a</i><i style="left:725.96px;transform:scaleX(0.9800)">n</i><i style="left:751.12px;transform:scaleX(1.0000)">4</i><i style="left:767.02px;transform:scaleX(0.9000)">,</i><i style="left:784.21px;transform:scaleX(0.9400)">2</i><i style="left:801.04px;transform:scaleX(1.0000)">0</i><i style="left:818.95px;transform:scaleX(0.9400)">2</i><i style="left:836.03px;transform:scaleX(0.9400)">5</i></div>
<div class="t g" style="left:0;top:1474.00px;font-size:29.4px;color:#0a0a0a;-webkit-text-stroke:0.4px #0a0a0a;"><i style="left:974.25px;transform:scaleX(0.9000)">E</i><i style="left:991.08px;transform:scaleX(0.9800)">m</i><i style="left:1015.61px;transform:scaleX(0.9800)">i</i><i style="left:1022.39px;transform:scaleX(0.9800)">l</i><i style="left:1029.56px;transform:scaleX(1.0000)">y</i><i style="left:1052.92px;transform:scaleX(0.9200)">D</i><i style="left:1073.13px;transform:scaleX(0.9400)">a</i><i style="left:1088.94px;transform:scaleX(0.9800)">v</i><i style="left:1104.18px;transform:scaleX(0.9800)">i</i><i style="left:1111.46px;transform:scaleX(0.9000)">s</i></div>
<div class="b" style="left:1334px;top:1456px;width:64px;height:64px;border-radius:16px;background:#e0f8e7"><svg width="64" height="64" viewBox="0 0 64 64" style="display:block">
<defs>
<radialGradient id="ab" cx="0.32" cy="0.28" r="0.85"><stop offset="0" stop-color="#f6b3a4"/><stop offset="0.22" stop-color="#ea6259"/><stop offset="0.6" stop-color="#d13f39"/><stop offset="1" stop-color="#8f2a2a"/></radialGradient>
</defs>
<path d="M31.6 24.4 Q30.6 21.4 28.3 19.3" fill="none" stroke="#5b2f24" stroke-width="1.2" stroke-linecap="round"/>
<path d="M31.7 24 Q32.6 19.6 37.6 17.7 Q38 21.6 33.6 23.9 Z" fill="#4aa92d"/>
<path d="M31.6 24.5 C29.6 22.6 25 22.3 22.4 24.8 C19.6 27.6 19.2 32.6 20.8 36.8 C22.4 41 24.8 44.8 27.8 44.7 C29.6 44.7 30.6 43.2 32.3 43.2 C34 43.2 35 44.7 36.8 44.7 C39.8 44.8 42.4 41 43.8 36.8 C45.4 32.4 45.2 27.6 42.4 24.8 C39.6 22.2 34 22.6 31.6 24.5 Z" fill="url(#ab)"/>
</svg></div>
<div class="t g" style="left:0;top:1473.00px;font-size:29.4px;color:#0a0a0a;-webkit-text-stroke:0.4px #0a0a0a;"><i style="left:1422.25px;transform:scaleX(0.9200)">D</i><i style="left:1442.71px;transform:scaleX(0.9800)">o</i><i style="left:1459.74px;transform:scaleX(0.9600)">w</i><i style="left:1481.65px;transform:scaleX(0.9800)">n</i><i style="left:1498.20px;transform:scaleX(1.0000)">t</i><i style="left:1507.33px;transform:scaleX(0.9800)">o</i><i style="left:1524.37px;transform:scaleX(0.9600)">w</i><i style="left:1546.28px;transform:scaleX(0.9800)">n</i><i style="left:1570.70px;transform:scaleX(0.9000)">F</i><i style="left:1586.37px;transform:scaleX(0.9800)">o</i><i style="left:1603.16px;transform:scaleX(0.9800)">o</i><i style="left:1619.95px;transform:scaleX(1.0000)">d</i><i style="left:1644.72px;transform:scaleX(0.9000)">B</i><i style="left:1663.04px;transform:scaleX(0.9400)">a</i><i style="left:1678.76px;transform:scaleX(0.9800)">n</i><i style="left:1695.31px;transform:scaleX(0.9800)">k</i></div>
<div class="b" style="left:2648.7px;top:1468px;width:165.3px;height:45px;border-radius:8px;background:#e1f8e8"></div>
<div class="t g" style="left:0;top:1479.00px;font-size:24.6px;color:#439e50;-webkit-text-stroke:0.77px #439e50;"><i style="left:2668.99px;transform:scaleX(0.9600)">C</i><i style="left:2686.59px;transform:scaleX(1.0200)">o</i><i style="left:2700.84px;transform:scaleX(1.0400)">m</i><i style="left:2722.40px;transform:scaleX(1.0400)">p</i><i style="left:2737.24px;transform:scaleX(1.1000)">l</i><i style="left:2743.28px;transform:scaleX(1.0200)">e</i><i style="left:2757.38px;transform:scaleX(1.1000)">t</i><i style="left:2765.32px;transform:scaleX(1.0200)">e</i><i style="left:2779.41px;transform:scaleX(1.0600)">d</i></div>
<div class="b" style="left:494px;top:1553px;width:840px;height:2px;background:#f4f4f4;"></div>
<div class="b" style="left:1334px;top:1552px;width:1280px;height:2px;background:#f4f4f4;"></div>
<div class="b" style="left:2614px;top:1553px;width:200px;height:2px;background:#f4f4f4;"></div>
<div class="t g" style="left:0;top:1604.00px;font-size:29.4px;color:#0a0a0a;-webkit-text-stroke:0.4px #0a0a0a;"><i style="left:494.00px;transform:scaleX(0.9000)">R</i><i style="left:512.77px;transform:scaleX(1.1000)">-</i><i style="left:525.08px;transform:scaleX(1.0000)">3</i><i style="left:542.63px;transform:scaleX(1.0000)">0</i><i style="left:560.29px;transform:scaleX(1.0000)">0</i><i style="left:577.46px;transform:scaleX(1.0400)">6</i></div>
<div class="t g" style="left:0;top:1604.00px;font-size:29.4px;color:#0a0a0a;-webkit-text-stroke:0.4px #0a0a0a;"><i style="left:695.00px;transform:scaleX(1.0000)">J</i><i style="left:710.23px;transform:scaleX(0.9400)">a</i><i style="left:725.96px;transform:scaleX(0.9800)">n</i><i style="left:750.62px;transform:scaleX(1.0000)">3</i><i style="left:766.54px;transform:scaleX(0.9000)">,</i><i style="left:783.73px;transform:scaleX(0.9400)">2</i><i style="left:800.56px;transform:scaleX(1.0000)">0</i><i style="left:818.47px;transform:scaleX(0.9400)">2</i><i style="left:835.55px;transform:scaleX(0.9400)">5</i></div>
<div class="t g" style="left:0;top:1604.00px;font-size:29.4px;color:#0a0a0a;-webkit-text-stroke:0.4px #0a0a0a;"><i style="left:974.25px;transform:scaleX(0.9200)">D</i><i style="left:994.46px;transform:scaleX(0.9400)">a</i><i style="left:1010.27px;transform:scaleX(0.9800)">v</i><i style="left:1025.51px;transform:scaleX(0.9800)">i</i><i style="left:1032.54px;transform:scaleX(1.0000)">d</i><i style="left:1057.56px;transform:scaleX(0.9400)">T</i><i style="left:1075.38px;transform:scaleX(0.9800)">h</i><i style="left:1092.19px;transform:scaleX(0.9800)">o</i><i style="left:1108.73px;transform:scaleX(0.9800)">m</i><i style="left:1133.01px;transform:scaleX(1.0200)">p</i><i style="left:1150.90px;transform:scaleX(0.9000)">s</i><i style="left:1165.43px;transform:scaleX(0.9800)">o</i><i style="left:1181.97px;transform:scaleX(0.9800)">n</i></div>
<div class="b" style="left:1334px;top:1586px;width:64px;height:64px;border-radius:16px;background:#f8e5f1"><svg width="64" height="64" viewBox="0 0 64 64" style="display:block">
<g fill="none" stroke="#c8306f" stroke-linecap="round">
<path d="M32.5 19.6 V46" stroke-width="1.3"/>
<path d="M31.3 20.6 H33.7" stroke-width="1.1"/>
<path d="M39.6 24.9 C37 22.8 29.4 23.6 26.8 26.2 C26 27.2 27.2 28.8 28.8 29.2" stroke-width="2"/>
<path d="M38.8 25.2 L36.6 24.4" stroke-width="2.4"/>
<path d="M37.4 29.6 C37 32.2 30.2 32 28.4 34 C27.6 35 28.2 35.6 28.8 35.6" stroke-width="2"/>
<path d="M36.2 36.2 C35.6 38.4 30.6 38.2 29.4 39.8 C29 40.4 29.4 40.8 29.8 40.8" stroke-width="1.9"/>
<path d="M34.6 41.6 C34 43 31.4 43.2 30.6 44.6" stroke-width="1.6"/>
</g>
</svg></div>
<div class="t g" style="left:0;top:1603.00px;font-size:29.4px;color:#0a0a0a;-webkit-text-stroke:0.4px #0a0a0a;"><i style="left:1422.00px;transform:scaleX(0.9000)">S</i><i style="left:1440.47px;transform:scaleX(0.9800)">u</i><i style="left:1456.77px;transform:scaleX(0.9800)">n</i><i style="left:1473.32px;transform:scaleX(0.9800)">r</i><i style="left:1484.29px;transform:scaleX(0.9800)">i</i><i style="left:1491.57px;transform:scaleX(0.9000)">s</i><i style="left:1505.85px;transform:scaleX(0.9600)">e</i><i style="left:1529.80px;transform:scaleX(1.0400)">M</i><i style="left:1555.35px;transform:scaleX(0.9600)">e</i><i style="left:1571.92px;transform:scaleX(1.0000)">d</i><i style="left:1588.82px;transform:scaleX(0.9800)">i</i><i style="left:1595.60px;transform:scaleX(1.0200)">c</i><i style="left:1611.87px;transform:scaleX(0.9400)">a</i><i style="left:1627.59px;transform:scaleX(0.9800)">l</i><i style="left:1642.25px;transform:scaleX(0.9000)">C</i><i style="left:1662.70px;transform:scaleX(0.9800)">l</i><i style="left:1669.48px;transform:scaleX(0.9800)">i</i><i style="left:1676.26px;transform:scaleX(0.9800)">n</i><i style="left:1692.80px;transform:scaleX(0.9800)">i</i><i style="left:1699.59px;transform:scaleX(1.0200)">c</i></div>
<div class="b" style="left:2648.7px;top:1598px;width:165.3px;height:45px;border-radius:8px;background:#e1f8e8"></div>
<div class="t g" style="left:0;top:1609.00px;font-size:24.6px;color:#439e50;-webkit-text-stroke:0.77px #439e50;"><i style="left:2668.99px;transform:scaleX(0.9600)">C</i><i style="left:2686.59px;transform:scaleX(1.0200)">o</i><i style="left:2700.84px;transform:scaleX(1.0400)">m</i><i style="left:2722.40px;transform:scaleX(1.0400)">p</i><i style="left:2737.24px;transform:scaleX(1.1000)">l</i><i style="left:2743.28px;transform:scaleX(1.0200)">e</i><i style="left:2757.38px;transform:scaleX(1.1000)">t</i><i style="left:2765.32px;transform:scaleX(1.0200)">e</i><i style="left:2779.41px;transform:scaleX(1.0600)">d</i></div>
<div class="b" style="left:0;top:1586px;width:2910px;height:50px;background:radial-gradient(ellipse 1350px 46px at 1455px 100%,rgba(0,0,0,0.045),rgba(0,0,0,0.02) 55%,rgba(0,0,0,0) 100%)"></div>
<div class="b" style="left:0px;top:1636px;width:2910px;height:4px;background:#e5e5e5;"></div>
<div class="b" style="left:1404px;top:1636.5px;width:76px;height:8px;border-radius:5px;background:#6e6e6e;box-shadow:0 0 0 1px #c4c4c4"></div>
<svg class="b" style="left:0;top:1622px" width="14" height="14" viewBox="0 0 14 14"><path d="M0 0 A14 14 0 0 0 14 14 L0 14 Z" fill="#e8e8e8"/></svg>
<svg class="b" style="left:2896px;top:1622px" width="14" height="14" viewBox="0 0 14 14"><path d="M14 0 A14 14 0 0 1 0 14 L14 14 Z" fill="#ebebeb"/></svg>
<svg class="b" style="left:0;top:0" width="6" height="6" viewBox="0 0 6 6"><path d="M0 0 H5.2 L0 5.5 Z" fill="#ececec"/></svg>
</div>
<script>
(function(){var w=window.innerWidth||2910,s=w/2910;if(Math.abs(s-1)>0.002){var r=document.getElementById('root');r.style.transformOrigin='0 0';r.style.transform='scale('+s+')';document.body.style.width=w+'px';document.body.style.height=Math.round(1640*s)+'px';}})();
</script>
</body>
</html>
